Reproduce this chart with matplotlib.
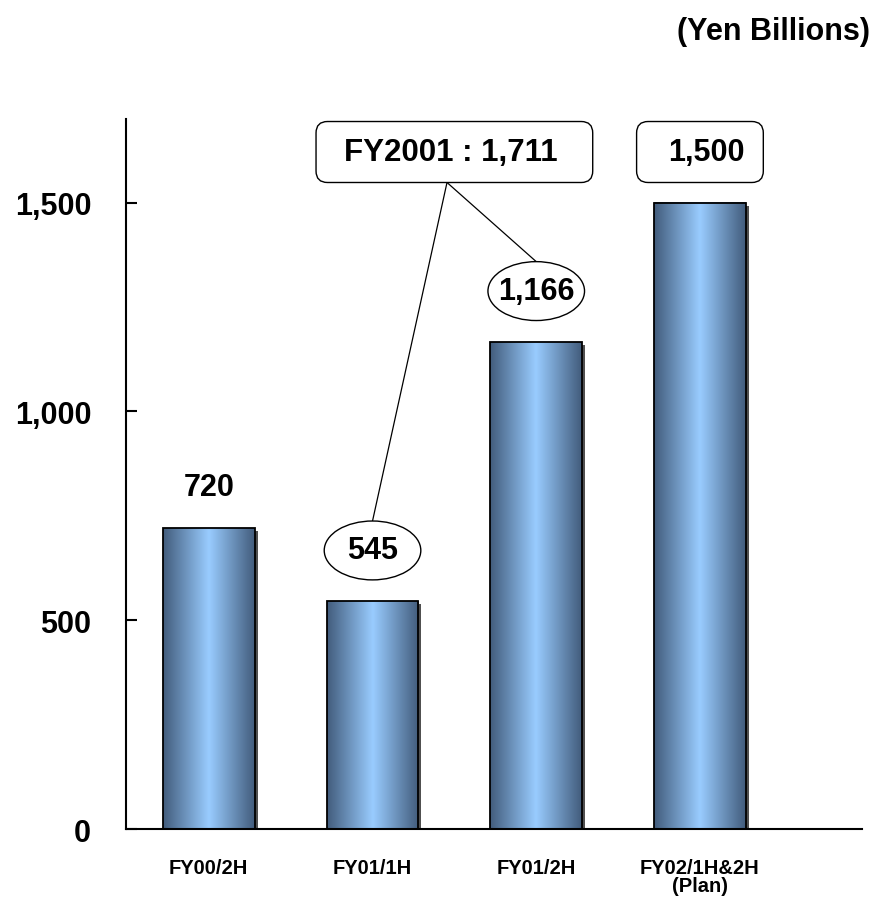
"""Bar chart of half-year amounts, FY00/2H to FY02 plan (Yen billions)."""

import matplotlib
matplotlib.use("Agg")
import matplotlib.pyplot as plt
import numpy as np
from matplotlib.colors import LinearSegmentedColormap
from matplotlib.patches import Ellipse, FancyBboxPatch, Rectangle

plt.rcParams["font.family"] = ["Liberation Sans", "DejaVu Sans"]
plt.rcParams["font.weight"] = "bold"

periods = ["FY00/2H", "FY01/1H", "FY01/2H", "FY02/1H&2H\n(Plan)"]
amounts = [720, 545, 1166, 1500]
circled = [False, True, True, False]  # value labels drawn inside an ellipse
boxed = [False, False, False, True]   # value labels drawn inside a rounded box
fy2001_total = 1711
yticks = [0, 500, 1000, 1500]
ytick_labels = ["0", "500", "1,000", "1,500"]

BAR_W = 0.56
DARK = np.array([0x42, 0x5c, 0x7c]) / 255
LIGHT = np.array([0x99, 0xcc, 0xff]) / 255
bar_cmap = LinearSegmentedColormap.from_list("steel", [DARK, LIGHT, DARK])


def fmt(v):
    return f"{v:,}"


fig = plt.figure(figsize=(8.79, 9.03), dpi=100)
ax = fig.add_axes([0.1433, 0.0808, 0.8374, 0.7863])

ymax = 1700
ax.set_xlim(-0.506, 3.99)
ax.set_ylim(0, ymax)

# pixels -> data units, used to keep rounded corners round
px_x = 1 / 164
px_y = 500 / 209
aspect = px_y / px_x

grad = np.linspace(0, 1, 256)[None, :]
xs = np.arange(len(amounts))
for x, v in zip(xs, amounts):
    left = x - BAR_W / 2
    ax.add_patch(Rectangle((left + 3 * px_x, -3 * px_y), BAR_W, v,
                           facecolor="#505050", edgecolor="none", zorder=1))
    ax.imshow(grad, cmap=bar_cmap, extent=[left, left + BAR_W, 0, v],
              aspect="auto", zorder=2, interpolation="bilinear")
    ax.add_patch(Rectangle((left, 0), BAR_W, v, facecolor="none",
                           edgecolor="black", linewidth=1.3, zorder=3))

ell_off = 122
ell_w, ell_h = 0.59, 141
box_y0, box_h = 1548, 146
for x, v, circ, box in zip(xs, amounts, circled, boxed):
    if circ:
        ax.add_patch(Ellipse((x, v + ell_off), ell_w, ell_h, facecolor="white",
                             edgecolor="black", linewidth=1.0, zorder=4))
        ax.text(x, v + ell_off, fmt(v), ha="center", va="center",
                fontsize=22, fontweight="bold", zorder=5)
    elif box:
        bw = 0.774
        ax.add_patch(FancyBboxPatch((x - bw / 2, box_y0), bw, box_h,
                                    boxstyle="round,pad=0,rounding_size=0.07",
                                    mutation_aspect=aspect, facecolor="white",
                                    edgecolor="black", linewidth=1.0,
                                    zorder=4, clip_on=False))
        ax.text(x + 0.04, box_y0 + box_h / 2, fmt(v), ha="center",
                va="center", fontsize=22, fontweight="bold", zorder=5)
    else:
        ax.text(x, v + 98, fmt(v), ha="center", va="center",
                fontsize=22, fontweight="bold", zorder=5)

# FY2001 total box between the two FY01 halves, with connectors
fx = (xs[1] + xs[2]) / 2
fw = 1.69
ax.add_patch(FancyBboxPatch((fx - fw / 2, box_y0), fw, box_h,
                            boxstyle="round,pad=0,rounding_size=0.07",
                            mutation_aspect=aspect, facecolor="white",
                            edgecolor="black", linewidth=1.0,
                            zorder=4, clip_on=False))
ax.text(fx - 0.02, box_y0 + box_h / 2, f"FY2001 : {fmt(fy2001_total)}",
        ha="center", va="center", fontsize=22.5, fontweight="bold", zorder=5)
for x in (xs[1], xs[2]):
    ax.plot([fx - 0.045, x], [box_y0, amounts[x] + ell_off + ell_h / 2],
            color="black", linewidth=0.9, zorder=3)

ax.set_yticks(yticks, ytick_labels)
ax.set_xticks(xs, periods)
ax.tick_params(axis="y", direction="in", length=8, width=1.5, pad=25,
               labelsize=22)
ax.tick_params(axis="x", length=0, pad=21, labelsize=14.5)
for lbl in ax.get_xticklabels() + ax.get_yticklabels():
    lbl.set_fontweight("bold")
for lbl in ax.get_xticklabels():
    lbl.set_linespacing(0.9)

for side in ("top", "right"):
    ax.spines[side].set_visible(False)
for side in ("left", "bottom"):
    ax.spines[side].set_linewidth(1.5)

fig.text(0.99, 0.965, "(Yen Billions)", ha="right", va="center",
         fontsize=22, fontweight="bold")

fig.savefig("out.png", dpi=100)
